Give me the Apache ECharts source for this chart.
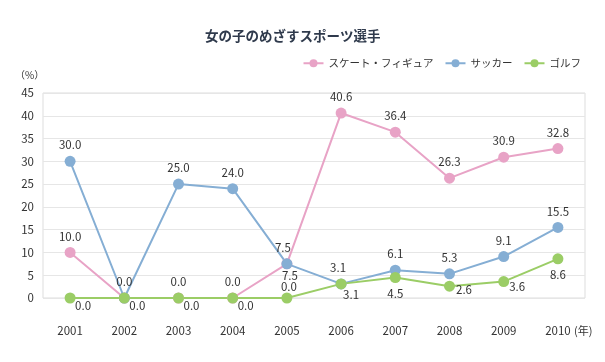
<!DOCTYPE html>
<html><head><meta charset="utf-8">
<script src="https://cdn.jsdelivr.net/npm/echarts@6/dist/echarts.min.js"></script>
<style>html,body{margin:0;padding:0;background:#fff}#c{width:605px;height:362px}</style>
</head><body><div id="c"></div>
<script>
const years = ['2001','2002','2003','2004','2005','2006','2007','2008','2009','2010'];
const skate = [10.0, 0.0, 0.0, 0.0, 7.5, 40.6, 36.4, 26.3, 30.9, 32.8];
const soccer = [30.0, 0.0, 25.0, 24.0, 7.5, 3.1, 6.1, 5.3, 9.1, 15.5];
const golf = [0.0, 0.0, 0.0, 0.0, 0.0, 3.1, 4.5, 2.6, 3.6, 8.6];
const yTicks = [0, 5, 10, 15, 20, 25, 30, 35, 40, 45];

const FONT = '"Noto Sans CJK JP", "Noto Sans", sans-serif';
const labelBase = {show: true, color: '#333', fontSize: 11.5, fontFamily: FONT, formatter: p => p.value.toFixed(1)};

// per-point label layout overrides (style only)
const skateLbl = {4: {position: 'bottom', offset: [3, -4]}};
const soccerLbl = {1: {show: false}, 4: {offset: [-4, 0]}, 5: {offset: [-3, 0]}};
const golfLbl = {
  0: {position: 'bottom', offset: [13, -9]}, 1: {position: 'bottom', offset: [13, -9]},
  2: {position: 'bottom', offset: [13, -9]}, 3: {position: 'bottom', offset: [13, -9]},
  4: {position: 'top', offset: [2, 5]}, 5: {position: 'bottom', offset: [10, -6]},
  7: {position: 'right', offset: [-4, 3]}, 8: {position: 'right', offset: [-5, 5]}
};
function mk(vals, over) {
  return vals.map((v, i) => over[i] ? {value: v, label: over[i]} : v);
}
function series(name, vals, color, pos, over) {
  return {
    name, type: 'line', data: mk(vals, over), symbol: 'circle', symbolSize: 11,
    itemStyle: {color}, lineStyle: {color, width: 2},
    label: Object.assign({}, labelBase, {position: pos}),
    emphasis: {disabled: true}, animation: false
  };
}
const chart = echarts.init(document.getElementById('c'), null, {renderer: 'canvas'});
chart.setOption({
  animation: false,
  title: {text: '女の子のめざすスポーツ選手', left: 200, top: 24,
    textStyle: {fontFamily: FONT, fontSize: 13.5, fontWeight: 'bold', color: '#2f3a4c'}},
  legend: {right: 19, top: 53, itemWidth: 20, itemHeight: 10, itemGap: 11,
    textStyle: {fontFamily: FONT, fontSize: 10.5, color: '#333'},
    data: ['スケート・フィギュア', 'サッカー', 'ゴルフ']},
  grid: {left: 43, right: 20, top: 93, bottom: 64, show: true, borderColor: '#ddd', borderWidth: 1},
  xAxis: {type: 'category', data: years, boundaryGap: true,
    axisLine: {show: false}, axisTick: {show: false},
    axisLabel: {margin: 27, color: '#333', fontSize: 11.5, fontFamily: FONT}},
  yAxis: {type: 'value', min: yTicks[0], max: yTicks[yTicks.length - 1], interval: 5,
    axisLine: {show: false}, axisTick: {show: false},
    axisLabel: {margin: 9, color: '#333', fontSize: 11.5, fontFamily: FONT},
    splitLine: {lineStyle: {color: '#e6e6e6', width: 1}}},
  graphic: [
    {type: 'text', left: 15, top: 70, style: {text: '（%）', font: '10px ' + FONT, fill: '#333'}},
    {type: 'text', left: 574, top: 325, style: {text: '(年)', font: '11px ' + FONT, fill: '#333'}}
  ],
  series: [
    series('スケート・フィギュア', skate, '#e8a3c6', 'top', skateLbl),
    series('サッカー', soccer, '#85aed4', 'top', soccerLbl),
    series('ゴルフ', golf, '#9bcd66', 'bottom', golfLbl)
  ]
});
</script></body></html>
